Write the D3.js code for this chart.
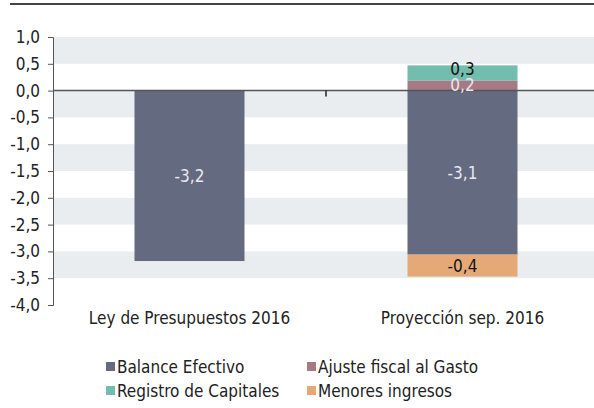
<!DOCTYPE html>
<html>
<head>
<meta charset="utf-8">
<script src="https://cdn.jsdelivr.net/npm/d3@7"></script>
<style>
  body { margin: 0; background: #fff; }
  svg text { font-family: "DejaVu Sans Condensed", "DejaVu Sans", sans-serif; }
</style>
</head>
<body>
<div id="vis-container"></div>
<script>
/* DATA */
const categories = ["Ley de Presupuestos 2016", "Proyección sep. 2016"];
const seriesNames = ["Balance Efectivo", "Ajuste fiscal al Gasto", "Registro de Capitales", "Menores ingresos"];
const balance = [-3.18, -3.06];
const ajuste = [0, 0.19];
const registro = [0, 0.28];
const menores = [0, -0.41];
const balanceLabels = ["-3,2", "-3,1"];
const ajusteLabels = ["", "0,2"];
const registroLabels = ["", "0,3"];
const menoresLabels = ["", "-0,4"];
const yTicks = [1, 0.5, 0, -0.5, -1, -1.5, -2, -2.5, -3, -3.5, -4];
const colors = ["#646a80", "#a67a85", "#72bdad", "#e4a976"];

const width = 594, height = 408;
const svg = d3.select("#vis-container").append("svg")
  .attr("width", width).attr("height", height);

// top rule
svg.append("line").attr("x1", 10).attr("x2", width).attr("y1", 4).attr("y2", 4)
  .attr("stroke", "#444").attr("stroke-width", 2);

let x = d3.scaleBand().domain(categories).range([53, 599]).paddingInner(0).paddingOuter(0);
let y = d3.scaleLinear().domain([-4, 1]).range([305, 37]);

// bands
const bands = d3.range(0, yTicks.length - 1, 2);
svg.append("g").selectAll("rect").data(bands).join("rect")
  .attr("x", 53).attr("width", width - 53)
  .attr("y", i => y(yTicks[i]))
  .attr("height", i => y(yTicks[i + 1]) - y(yTicks[i]))
  .attr("fill", "#e9edf0");

// stacked segments
let segs = [];
categories.forEach((c, i) => {
  let pos = 0, neg = 0;
  [[balance, balanceLabels], [ajuste, ajusteLabels], [registro, registroLabels], [menores, menoresLabels]].forEach((s, k) => {
    let v = s[0][i];
    if (v === 0) return;
    let y0, y1;
    if (v >= 0) { y0 = pos; y1 = pos + v; pos = y1; }
    else { y0 = neg; y1 = neg + v; neg = y1; }
    segs.push({cat: c, k: k, y0: y0, y1: y1, label: s[1][i]});
  });
});

const barW = 110;
svg.append("g").selectAll("rect").data(segs).join("rect")
  .attr("x", d => x(d.cat) + x.bandwidth() / 2 - barW / 2)
  .attr("width", barW)
  .attr("y", d => y(Math.max(d.y0, d.y1)))
  .attr("height", d => Math.abs(y(d.y0) - y(d.y1)))
  .attr("fill", d => colors[d.k]);

// y axis
let yAxis = svg.append("g").attr("transform", "translate(53,0)")
  .call(d3.axisLeft(y).tickValues(yTicks).tickSize(5).tickFormat(d => d3.format(".1f")(d).replace(".", ",").replace("−", "-")));
yAxis.select(".domain").attr("stroke", "#555");
yAxis.selectAll(".tick line").attr("stroke", "#555");
yAxis.selectAll(".tick text").attr("font-size", 17).attr("fill", "#222").attr("x", -13);

// zero line
svg.append("line").attr("x1", 53).attr("x2", width).attr("y1", y(0)).attr("y2", y(0))
  .attr("stroke", "#555").attr("stroke-width", 1.5);
// category separator tick
svg.append("line").attr("x1", x(categories[1])).attr("x2", x(categories[1]))
  .attr("y1", y(0)).attr("y2", y(0) + 6).attr("stroke", "#222").attr("stroke-width", 1.5);

// value labels
svg.append("g").selectAll("text").data(segs).join("text")
  .attr("x", d => x(d.cat) + x.bandwidth() / 2)
  .attr("y", d => y((d.y0 + d.y1) / 2) + (d.k === 2 ? -4 : 0))
  .attr("dy", "0.35em")
  .attr("text-anchor", "middle")
  .attr("font-size", 17)
  .attr("fill", d => (d.k === 0 || d.k === 1) ? "#e8e8ee" : "#111")
  .text(d => d.label);

// category labels
svg.append("g").selectAll("text").data(categories).join("text")
  .attr("x", d => x(d) + x.bandwidth() / 2)
  .attr("y", 324)
  .attr("text-anchor", "middle")
  .attr("font-size", 17)
  .attr("fill", "#222")
  .text(d => d);

// legend
const legX = [106, 307], legY = [367, 391];
let leg = svg.append("g").selectAll("g").data(seriesNames).join("g")
  .attr("transform", (d, i) => `translate(${legX[i % 2]},${legY[Math.floor(i / 2)]})`);
leg.append("rect").attr("x", 0).attr("y", -5).attr("width", 9).attr("height", 9)
  .attr("fill", (d, i) => colors[i]);
leg.append("text").attr("x", 11).attr("y", 0).attr("dy", "0.35em")
  .attr("font-size", 17).attr("fill", "#222").text(d => d);
</script>
</body>
</html>
